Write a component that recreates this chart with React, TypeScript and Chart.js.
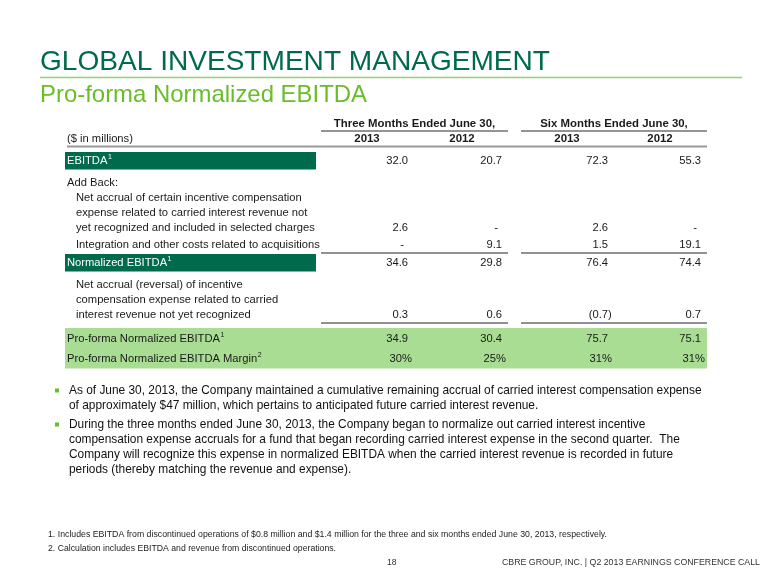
import React, { useEffect, useRef } from "react";
import { Chart, registerables } from "chart.js";

Chart.register(...registerables);

// ---------- content ----------
const slideTitle = "GLOBAL INVESTMENT MANAGEMENT";
const slideSubtitle = "Pro-forma Normalized EBITDA";
const periodHeaders = ["Three Months Ended June 30,", "Six Months Ended June 30,"];
const yearLabels = ["2013", "2012", "2013", "2012"];
const unitsLabel = "($ in millions)";

const ebitda = [32.0, 20.7, 72.3, 55.3];
const carriedInterestAddBack: (number | null)[] = [2.6, null, 2.6, null];
const integrationCosts: (number | null)[] = [null, 9.1, 1.5, 19.1];
const normalizedEbitda = [34.6, 29.8, 76.4, 74.4];
const carriedInterestAccrual = [0.3, 0.6, -0.7, 0.7];
const proformaEbitda = [34.9, 30.4, 75.7, 75.1];
const proformaMarginPct = [30, 25, 31, 31];

const addBackLines = [
  "Net accrual of certain incentive compensation",
  "expense related to carried interest revenue not",
  "yet recognized and included in selected charges",
];
const integrationLabel = "Integration and other costs related to acquisitions";
const accrualLines = [
  "Net accrual (reversal) of incentive",
  "compensation expense related to carried",
  "interest revenue not yet recognized",
];

const bullets = [
  [
    "As of June 30, 2013, the Company maintained a cumulative remaining accrual of carried interest compensation expense",
    "of approximately $47 million, which pertains to anticipated future carried interest revenue.",
  ],
  [
    "During the three months ended June 30, 2013, the Company began to normalize out carried interest incentive",
    "compensation expense accruals for a fund that began recording carried interest expense in the second quarter.  The",
    "Company will recognize this expense in normalized EBITDA when the carried interest revenue is recorded in future",
    "periods (thereby matching the revenue and expense).",
  ],
];
const footnotes = [
  "1. Includes EBITDA from discontinued operations of $0.8 million and $1.4 million for the three and six months ended June 30, 2013, respectively.",
  "2. Calculation includes EBITDA and revenue from discontinued operations.",
];
const pageNumber = "18";
const footerText = "CBRE GROUP, INC. | Q2 2013 EARNINGS CONFERENCE CALL";

// ---------- styles ----------
const DARK_GREEN = "#006A4D";
const LIGHT_GREEN = "#69BE28";
const BAND_GREEN = "#A9DD93";
const FONT = "'Liberation Sans', Arial, sans-serif";
const CELL = 11.2;

const slidePlugin = {
  id: "slide",
  afterDraw(chart: any) {
    const ctx: CanvasRenderingContext2D = chart.ctx;
    const xs = chart.scales.x;
    const ys = chart.scales.y;
    const X = (v: number) => xs.getPixelForValue(v);
    const Y = (v: number) => ys.getPixelForValue(v);

    const text = (
      s: string,
      x: number,
      y: number,
      o: { size?: number; bold?: boolean; color?: string; align?: CanvasTextAlign; base?: CanvasTextBaseline; width?: number } = {}
    ) => {
      const size = o.size ?? CELL;
      ctx.save();
      ctx.font = `${o.bold ? "bold " : ""}${size}px ${FONT}`;
      ctx.fillStyle = o.color ?? "#1a1a1a";
      ctx.textBaseline = o.base ?? "middle";
      ctx.textAlign = "left";
      const w = ctx.measureText(s).width;
      const sx = o.width ? o.width / w : 1;
      const drawnW = w * sx;
      let left = X(x);
      if (o.align === "right") left -= drawnW;
      else if (o.align === "center") left -= drawnW / 2;
      ctx.translate(left, Y(y));
      ctx.scale(sx, 1);
      ctx.fillText(s, 0, 0);
      ctx.restore();
      return drawnW;
    };
    const measure = (s: string, size: number, bold = false) => {
      ctx.save();
      ctx.font = `${bold ? "bold " : ""}${size}px ${FONT}`;
      const w = ctx.measureText(s).width;
      ctx.restore();
      return w;
    };
    const rect = (x0: number, y0: number, x1: number, y1: number, c: string) => {
      ctx.fillStyle = c;
      ctx.fillRect(X(x0), Y(y0), X(x1) - X(x0), Y(y1) - Y(y0));
    };
    const hline = (x0: number, x1: number, y: number, c: string, lw: number) => {
      ctx.save();
      ctx.strokeStyle = c;
      ctx.lineWidth = lw;
      ctx.beginPath();
      ctx.moveTo(X(x0), Y(y));
      ctx.lineTo(X(x1), Y(y));
      ctx.stroke();
      ctx.restore();
    };
    const labelSup = (s: string, sup: string, x: number, y: number, color: string) => {
      const w = text(s, x, y, { color });
      text(sup, x + w + 0.5, y - 4, { size: 7, color });
    };

    // ---- header ----
    text(slideTitle, 40, 70, { size: 28, color: DARK_GREEN, base: "alphabetic", width: 510 });
    hline(40, 742, 77.5, "#8FD46E", 1.5);
    text(slideSubtitle, 40, 102, { size: 24, color: LIGHT_GREEN, base: "alphabetic", width: 327 });

    // ---- table ----
    const colRight = [408, 502, 608, 701];
    const colCenter = [367, 462, 567, 660];
    const groups = [
      [321, 508],
      [521, 707],
    ];
    periodHeaders.forEach((h, i) => {
      text(h, (groups[i][0] + groups[i][1]) / 2, 124, { bold: true, size: 11.4, align: "center" });
      hline(groups[i][0], groups[i][1], 131, "#707070", 1.5);
    });
    yearLabels.forEach((y, i) => text(y, colCenter[i], 139, { bold: true, size: 11.4, align: "center" }));
    text(unitsLabel, 67, 139);
    hline(67, 707, 146.5, "#9a9a9a", 2);

    const fmt = (v: number | null) => (v === null ? "-" : v < 0 ? `(${Math.abs(v).toFixed(1)})` : v.toFixed(1));
    const drawValues = (vals: (number | null)[], y: number) => {
      vals.forEach((v, i) => {
        if (v === null) text("-", colRight[i] - 4, y, { align: "right" });
        else if (v < 0) text(fmt(v), colRight[i] + measure(")", CELL), y, { align: "right" });
        else text(fmt(v), colRight[i], y, { align: "right" });
      });
    };

    // EBITDA
    rect(65, 152, 316, 169.5, DARK_GREEN);
    labelSup("EBITDA", "1", 67, 161, "#ffffff");
    drawValues(ebitda, 161);

    // Add back
    text("Add Back:", 67, 183);
    const abY = [198, 213, 228];
    addBackLines.forEach((l, i) => text(l, 76, abY[i]));
    drawValues(carriedInterestAddBack, 228);
    text(integrationLabel, 76, 245);
    drawValues(integrationCosts, 245);
    groups.forEach((g) => hline(g[0], g[1], 253, "#222", 1));

    // Normalized EBITDA
    rect(65, 254, 316, 271.5, DARK_GREEN);
    labelSup("Normalized EBITDA", "1", 67, 263, "#ffffff");
    drawValues(normalizedEbitda, 263);

    const acY = [285, 300, 315];
    accrualLines.forEach((l, i) => text(l, 76, acY[i]));
    drawValues(carriedInterestAccrual, 315);
    groups.forEach((g) => hline(g[0], g[1], 323, "#222", 1));

    // Pro-forma band
    rect(65, 328, 707, 368.5, BAND_GREEN);
    labelSup("Pro-forma Normalized EBITDA", "1", 67, 339, "#1a1a1a");
    drawValues(proformaEbitda, 339);
    labelSup("Pro-forma Normalized EBITDA Margin", "2", 67, 359, "#1a1a1a");
    proformaMarginPct.forEach((p, i) => text(`${p}%`, colRight[i] + 4, 359, { align: "right" }));

    // ---- bullets ----
    const bulletStarts = [391, 425];
    bullets.forEach((lines, bi) => {
      const y0 = bulletStarts[bi];
      rect(55, y0 - 2.5, 59, y0 + 1.5, LIGHT_GREEN);
      lines.forEach((l, li) => {
        text(l, 69, y0 + li * 15, { size: 11.9, color: "#111" });
      });
    });

    // ---- footnotes ----
    text(footnotes[0], 48, 535, { size: 8.6, color: "#222", width: 559 });
    text(footnotes[1], 48, 549, { size: 8.6, color: "#222", width: 288 });
    text(pageNumber, 387, 563, { size: 8.6, color: "#333" });
    text(footerText, 502, 563, { size: 8.6, color: "#333", width: 258 });
  },
};

export default function App() {
  const ref = useRef<HTMLCanvasElement>(null);
  useEffect(() => {
    const chart = new Chart(ref.current as HTMLCanvasElement, {
      type: "scatter",
      data: { datasets: [{ data: [] }] },
      options: {
        responsive: false,
        animation: false,
        devicePixelRatio: 1,
        layout: { padding: 0 },
        scales: {
          x: { type: "linear", min: 0, max: 780, display: false },
          y: { type: "linear", min: 0, max: 585, reverse: true, display: false },
        },
        plugins: { legend: { display: false }, tooltip: { enabled: false }, title: { display: false } },
      },
      plugins: [slidePlugin],
    } as any);
    return () => chart.destroy();
  }, []);
  return (
    <div style={{ position: "fixed", left: 0, top: 0, width: 780, height: 585, background: "#ffffff" }}>
      <canvas ref={ref} width={780} height={585} style={{ display: "block" }} />
    </div>
  );
}
